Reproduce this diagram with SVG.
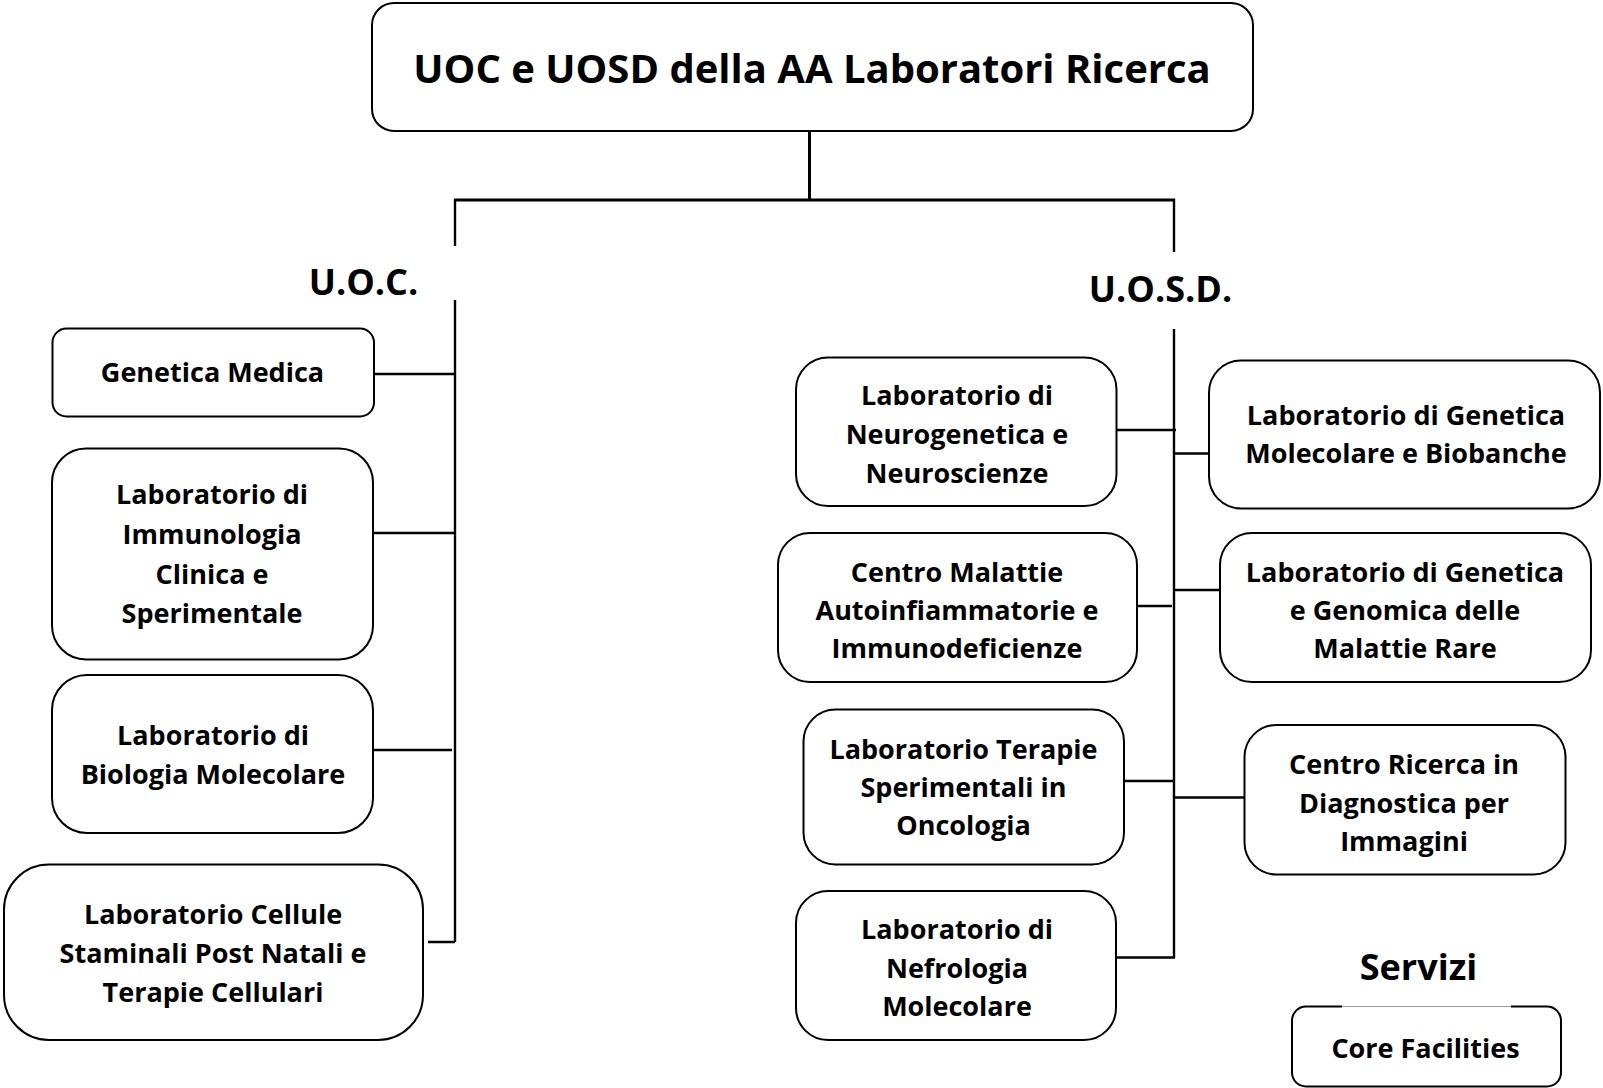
<svg xmlns="http://www.w3.org/2000/svg" width="1603" height="1088" viewBox="0 0 1603 1088">
  <style>
    .box { fill: #ffffff; stroke: #000000; stroke-width: 2; }
    .lbl { font-family: "Open Sans", Lato, "Liberation Sans", sans-serif; font-weight: bold; font-size: 27px; fill: #000000; text-anchor: middle; }
    .head { font-family: "Open Sans", Lato, "Liberation Sans", sans-serif; font-weight: bold; font-size: 36px; fill: #000000; text-anchor: middle; }
    .title { font-family: "Open Sans", Lato, "Liberation Sans", sans-serif; font-weight: bold; font-size: 40px; fill: #000000; text-anchor: middle; }
    .wire { fill: none; stroke: #000000; stroke-width: 2.4; }
    .bar { fill: none; stroke: #000000; stroke-width: 3; }
  </style>
  <rect width="1603" height="1088" fill="#ffffff"/>

  <!-- tree connectors -->
  <g id="connectors">
    <path class="bar" d="M809.5 131 V200 M454 200 H1175"/>
    <path class="wire" d="M455 199 V246 M455 300 V942"/>
    <path class="wire" d="M1174 199 V252 M1174 329 V958"/>
    <path class="wire" d="M374 374 H455 M373 533 H455 M369 750 H452 M428 942 H455"/>
    <path class="wire" d="M1116 430 H1176 M1174 453.5 H1209 M1137 606 H1172 M1174 590 H1220 M1124 781 H1174 M1174 797.5 H1244 M1116 957.5 H1175"/>
  </g>

  <!-- root -->
  <g id="root">
    <rect class="box" x="372" y="3" width="881" height="128" rx="22"/>
    <text class="title" x="812" y="83">UOC e UOSD della AA Laboratori Ricerca</text>
  </g>

  <!-- section headings -->
  <g id="uoc-heading"><text class="head" x="363.5" y="295">U.O.C.</text></g>
  <g id="uosd-heading"><text class="head" x="1160.5" y="301.5">U.O.S.D.</text></g>
  <g id="servizi-heading"><text class="head" x="1418.5" y="980">Servizi</text></g>

  <!-- U.O.C. units -->
  <g id="genetica-medica">
    <rect class="box" x="52.5" y="328.5" width="321.5" height="88" rx="14"/>
    <text class="lbl" x="212.5" y="382">Genetica Medica</text>
  </g>
  <g id="immunologia">
    <rect class="box" x="52" y="448.5" width="321" height="211" rx="34"/>
    <text class="lbl" x="212" y="504">Laboratorio di</text>
    <text class="lbl" x="212" y="544">Immunologia</text>
    <text class="lbl" x="212" y="584">Clinica e</text>
    <text class="lbl" x="212" y="623">Sperimentale</text>
  </g>
  <g id="biologia-molecolare">
    <rect class="box" x="52" y="675" width="321" height="158" rx="35"/>
    <text class="lbl" x="213" y="744.5">Laboratorio di</text>
    <text class="lbl" x="213" y="783.5">Biologia Molecolare</text>
  </g>
  <g id="cellule-staminali">
    <rect class="box" x="4" y="864.5" width="419" height="175.5" rx="45"/>
    <text class="lbl" x="213" y="924">Laboratorio Cellule</text>
    <text class="lbl" x="213" y="963">Staminali Post Natali e</text>
    <text class="lbl" x="213" y="1002">Terapie Cellulari</text>
  </g>

  <!-- U.O.S.D. units -->
  <g id="neurogenetica">
    <rect class="box" x="796" y="357.5" width="320.5" height="148.5" rx="32"/>
    <text class="lbl" x="957" y="405">Laboratorio di</text>
    <text class="lbl" x="957" y="444">Neurogenetica e</text>
    <text class="lbl" x="957" y="483">Neuroscienze</text>
  </g>
  <g id="biobanche">
    <rect class="box" x="1209" y="360.5" width="391" height="148" rx="32"/>
    <text class="lbl" x="1406" y="425">Laboratorio di Genetica</text>
    <text class="lbl" x="1406" y="463">Molecolare e Biobanche</text>
  </g>
  <g id="autoinfiammatorie">
    <rect class="box" x="778" y="533" width="359" height="149" rx="32"/>
    <text class="lbl" x="957" y="582">Centro Malattie</text>
    <text class="lbl" x="957" y="620">Autoinfiammatorie e</text>
    <text class="lbl" x="957" y="658">Immunodeficienze</text>
  </g>
  <g id="malattie-rare">
    <rect class="box" x="1220" y="533" width="371" height="149" rx="32"/>
    <text class="lbl" x="1405" y="582">Laboratorio di Genetica</text>
    <text class="lbl" x="1405" y="620">e Genomica delle</text>
    <text class="lbl" x="1405" y="658">Malattie Rare</text>
  </g>
  <g id="oncologia">
    <rect class="box" x="803.5" y="709.5" width="320.5" height="155" rx="32"/>
    <text class="lbl" x="963.5" y="758.5">Laboratorio Terapie</text>
    <text class="lbl" x="963.5" y="797">Sperimentali in</text>
    <text class="lbl" x="963.5" y="835">Oncologia</text>
  </g>
  <g id="diagnostica-immagini">
    <rect class="box" x="1244.5" y="725" width="321" height="149.5" rx="32"/>
    <text class="lbl" x="1404" y="774">Centro Ricerca in</text>
    <text class="lbl" x="1404" y="812.5">Diagnostica per</text>
    <text class="lbl" x="1404" y="851">Immagini</text>
  </g>
  <g id="nefrologia">
    <rect class="box" x="796" y="891" width="320" height="149" rx="32"/>
    <text class="lbl" x="957" y="938.5">Laboratorio di</text>
    <text class="lbl" x="957" y="977.5">Nefrologia</text>
    <text class="lbl" x="957" y="1016">Molecolare</text>
  </g>

  <!-- Servizi -->
  <g id="core-facilities">
    <rect class="box" x="1292" y="1006.5" width="269" height="80" rx="14"/>
    <line x1="1342" y1="1006.5" x2="1511" y2="1006.5" stroke="#ffffff" stroke-width="3"/>
    <line x1="1342" y1="1006.5" x2="1511" y2="1006.5" stroke="#9a9a9a" stroke-width="1"/>
    <text class="lbl" x="1425.5" y="1058">Core Facilities</text>
  </g>
</svg>
